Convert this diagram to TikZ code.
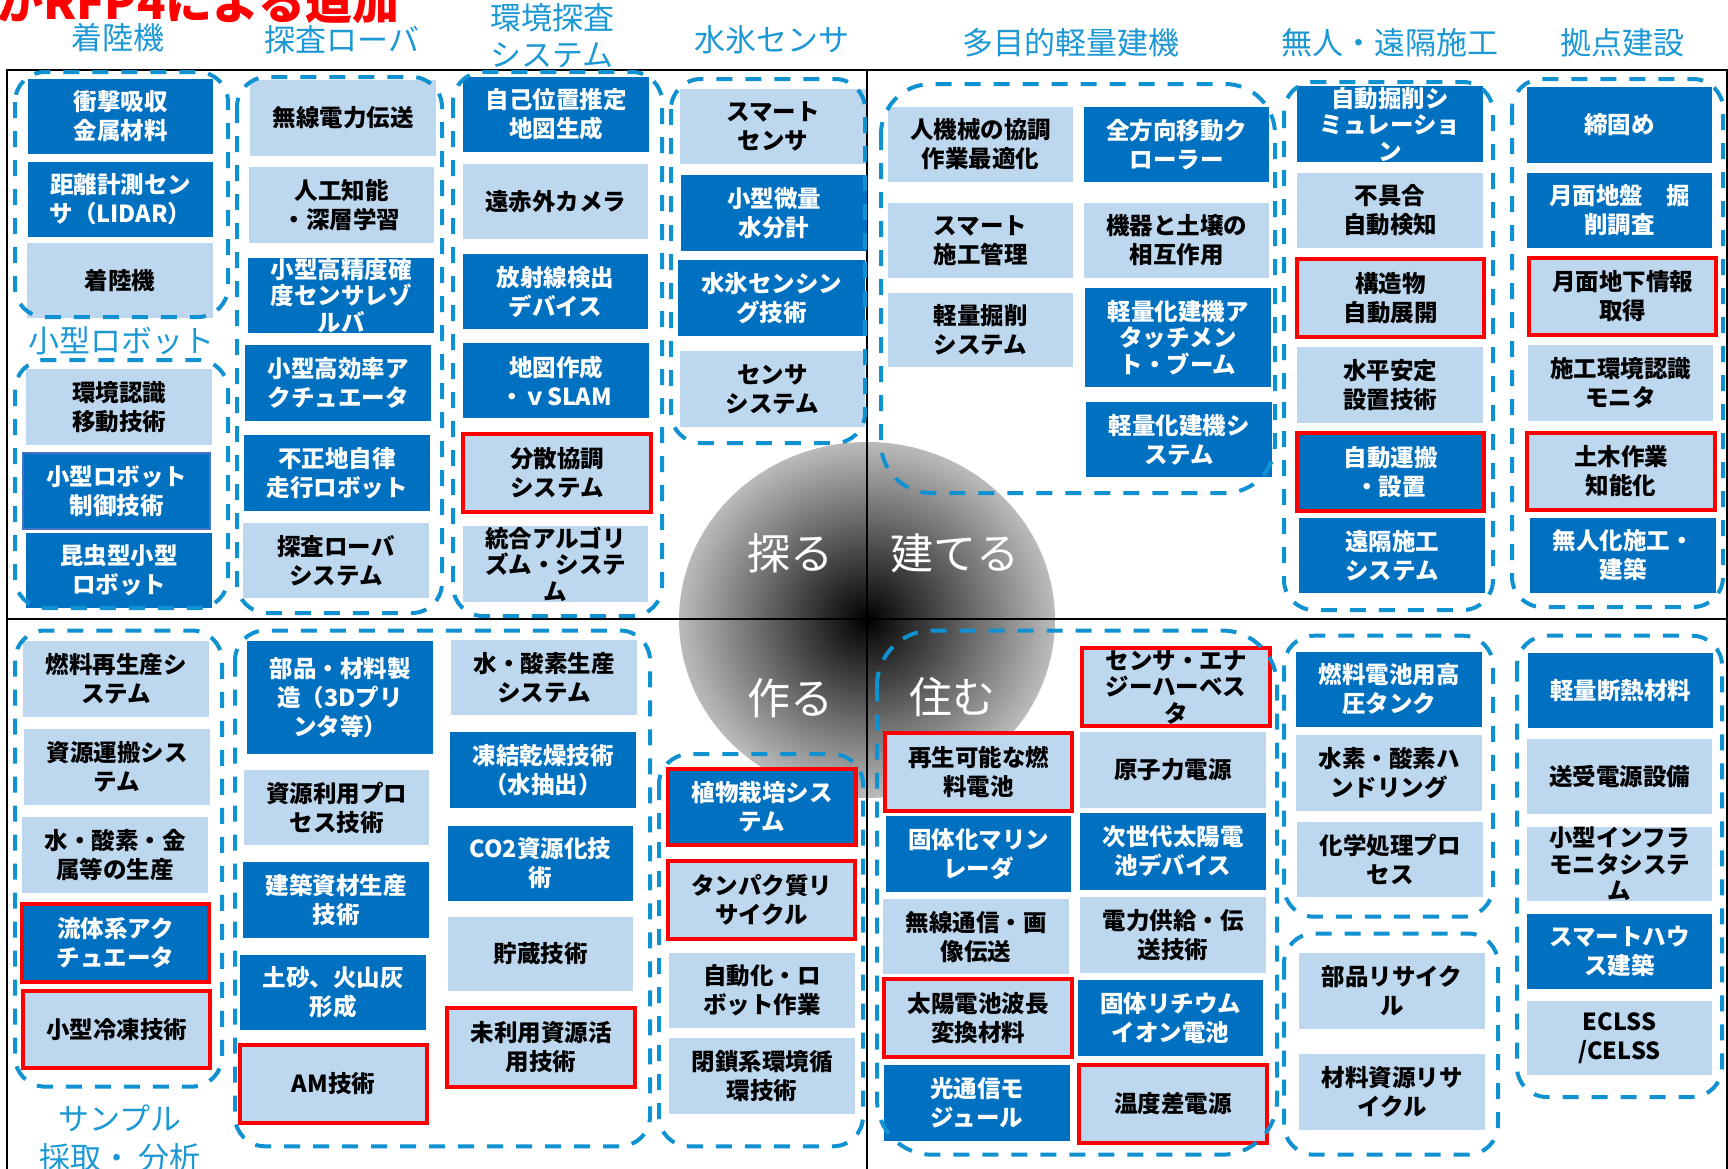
\documentclass[tikz,border=0pt]{standalone}
\usepackage{fontspec}
\setmainfont{Noto Sans CJK JP}
\definecolor{dkblue}{RGB}{0,112,192}
\definecolor{ltblue}{RGB}{189,215,238}
\definecolor{catblue}{RGB}{28,152,212}
\definecolor{grpblue}{RGB}{16,146,210}
\definecolor{thinedge}{RGB}{68,114,196}
\newcommand\mybox[7]{\node[#2, minimum width={(#5-#3)*1pt}, minimum height={(#6-#4)*1pt}] (#1) at ({(#3+#5)/2},{(#4+#6)/2}) {#7};}
\tikzset{
  boxbase/.style={rectangle, inner sep=0pt, outer sep=0pt, align=center, font=\bfseries\fontsize{23.5}{29}\selectfont},
  darkbox/.style={boxbase, fill=dkblue, text=white},
  lightbox/.style={boxbase, fill=ltblue, text=black},
  redbox/.style={draw=red, line width=4pt},
  threeline/.style={font=\bfseries\fontsize{23.5}{26.5}\selectfont},
  grp/.style={draw=grpblue, line width=4pt, dash pattern=on 16pt off 13pt},
  catlabel/.style={text=catblue, align=center, inner sep=0pt, font=\fontsize{31}{37}\selectfont},
  verb/.style={text=white, inner sep=0pt, font=\fontsize{43}{48}\selectfont},
}
\begin{document}
\begin{tikzpicture}[x=1pt,y=-1pt]
\useasboundingbox (0,0) rectangle (1728,1168);
\clip (0,0) rectangle (1728,1168);
\fill[white] (0,0) rectangle (1728,1168);

% central ball: concentric ellipses, black centre to light grey rim
\foreach \i in {0,...,89}{
  \pgfmathsetmacro\f{1-\i/90}
  \pgfmathsetmacro\pc{100-73*\f}
  \fill[black!\pc] (867,620) ellipse [x radius={188*\f*1pt}, y radius={178*\f*1pt}];
}

% frame
\draw[line width=1.5pt] (7,1175) -- (7,70) -- (1727,70) -- (1727,1175);
\draw[line width=2.5pt] (7,619) -- (1727,619);
\draw[line width=2pt] (867,70) -- (867,1175);

% title
\node[anchor=base west, inner sep=0pt, text=red, font=\bfseries\fontsize{47}{50}\selectfont] (title) at (-4,19) {かRFP4による追加};

% category labels
\node[catlabel] (L1) at (118,38) {着陸機};
\node[catlabel] (L2) at (342,40) {探査ローバ};
\node[catlabel] (L3) at (552,36) {環境探査\\システム};
\node[catlabel] (L4) at (772,40) {水氷センサ};
\node[catlabel] (L5) at (1071,43) {多目的軽量建機};
\node[catlabel] (L6) at (1390,43) {無人・遠隔施工};
\node[catlabel] (L7) at (1622,43) {拠点建設};
\node[catlabel] (L8) at (121,341) {小型ロボット};
\node[catlabel, font=\fontsize{31}{39}\selectfont] (L9) at (120,1138.5) {サンプル\\採取・ 分析};

% ---- top-left quadrant
\mybox{a1}{darkbox}{28}{79}{213}{154}{衝撃吸収\\金属材料}
\mybox{a2}{darkbox}{28}{162}{213}{237}{距離計測セン\\サ（LIDAR）}
\mybox{a3}{lightbox}{27}{243}{213}{318}{着陸機}

\mybox{b1}{lightbox}{26}{369}{212}{445}{環境認識\\移動技術}
\mybox{b2}{darkbox,draw=thinedge,line width=1.5pt}{23}{453}{210}{529}{小型ロボット\\制御技術}
\mybox{b3}{darkbox}{26}{533}{212}{608}{昆虫型小型\\ロボット}

\mybox{c1}{lightbox}{250}{80}{436}{156}{無線電力伝送}
\mybox{c2}{lightbox}{249}{167}{434}{243}{人工知能\\・深層学習}
\mybox{c3}{darkbox,threeline}{248}{258}{434}{333}{小型高精度確\\度センサレゾ\\ルバ}
\mybox{c4}{darkbox}{245}{345}{431}{421}{小型高効率ア\\クチュエータ}
\mybox{c5}{darkbox}{244}{435}{430}{511}{不正地自律\\走行ロボット}
\mybox{c6}{lightbox}{243}{523}{429}{598}{探査ローバ\\システム}

\mybox{d1}{darkbox}{463}{77}{649}{152}{自己位置推定\\地図生成}
\mybox{d2}{lightbox}{463}{164}{648}{239}{遠赤外カメラ}
\mybox{d3}{darkbox}{463}{254}{648}{329}{放射線検出\\デバイス}
\mybox{d4}{darkbox}{463}{343}{649}{418}{地図作成\\・ｖSLAM}
\mybox{d5}{lightbox,redbox}{463}{434}{651}{512}{分散協調\\システム}
\mybox{d6}{lightbox,threeline}{463}{526}{648}{602}{統合アルゴリ\\ズム・システ\\ム}

\mybox{e1}{lightbox}{680}{89}{866}{164}{スマート\\センサ}
\mybox{e2}{darkbox}{681}{175}{867}{251}{小型微量\\水分計}
\mybox{e3}{darkbox}{678}{260}{865}{336}{水氷センシン\\グ技術}
\mybox{e4}{lightbox}{680}{351}{865}{427}{センサ\\システム}

% ---- top-right quadrant
\mybox{f1}{lightbox}{888}{107}{1073}{182}{人機械の協調\\作業最適化}
\mybox{f2}{darkbox}{1084}{107}{1269}{182}{全方向移動ク\\ローラー}
\mybox{f3}{lightbox}{888}{203}{1073}{278}{スマート\\施工管理}
\mybox{f4}{lightbox}{1084}{203}{1269}{278}{機器と土壌の\\相互作用}
\mybox{f5}{lightbox}{888}{293}{1073}{367}{軽量掘削\\システム}
\mybox{f6}{darkbox,threeline}{1085}{288}{1271}{387}{軽量化建機ア\\タッチメン\\ト・ブーム}
\mybox{f7}{darkbox}{1086}{402}{1272}{477}{軽量化建機シ\\ステム}

\mybox{h1}{darkbox,threeline}{1297}{86}{1483}{162}{自動掘削シ\\ミュレーショ\\ン}
\mybox{h2}{lightbox}{1297}{173}{1483}{248}{不具合\\自動検知}
\mybox{h3}{lightbox,redbox}{1297}{259}{1484}{337}{構造物\\自動展開}
\mybox{h4}{lightbox}{1297}{347}{1483}{423}{水平安定\\設置技術}
\mybox{h5}{darkbox,redbox}{1297}{433}{1484}{511}{自動運搬\\・設置}
\mybox{h6}{darkbox}{1299}{518}{1485}{593}{遠隔施工\\システム}

\mybox{i1}{darkbox}{1527}{87}{1712}{163}{締固め}
\mybox{i2}{darkbox}{1527}{173}{1712}{248}{月面地盤　掘\\削調査}
\mybox{i3}{lightbox,redbox}{1529}{258}{1716}{335}{月面地下情報\\取得}
\mybox{i4}{lightbox}{1528}{345}{1713}{421}{施工環境認識\\モニタ}
\mybox{i5}{lightbox,redbox}{1527}{433}{1715}{510}{土木作業\\知能化}
\mybox{i6}{darkbox}{1530}{518}{1716}{593}{無人化施工・\\建築}

% ---- bottom-left quadrant
\mybox{j1}{lightbox}{23}{641}{209}{716.5}{燃料再生産シ\\ステム}
\mybox{j2}{lightbox}{24}{729}{210}{804.5}{資源運搬シス\\テム}
\mybox{j3}{lightbox}{22}{817}{208}{892.6}{水・酸素・金\\属等の生産}
\mybox{j4}{darkbox,redbox}{22}{904}{209}{981.7}{流体系アク\\チュエータ}
\mybox{j5}{lightbox,redbox}{23}{991}{210}{1067.7}{小型冷凍技術}

\mybox{k1}{darkbox}{247}{641}{433}{754.2}{部品・材料製\\造（3Dプリ\\ンタ等）}
\mybox{k2}{lightbox}{244}{770}{429}{845.4}{資源利用プロ\\セス技術}
\mybox{k3}{darkbox}{243}{862.2}{429}{937.7}{建築資材生産\\技術}
\mybox{k4}{darkbox}{240}{954.5}{426}{1030}{土砂、火山灰\\形成}
\mybox{k5}{lightbox,redbox}{240}{1044.6}{427}{1123.3}{AM技術}
\mybox{l1}{lightbox}{451}{640}{637}{715.4}{水・酸素生産\\システム}
\mybox{l2}{darkbox}{450}{732.2}{636}{807.7}{凍結乾燥技術\\（水抽出）}
\mybox{l3}{darkbox}{448}{825.5}{633}{901}{CO2資源化技\\術}
\mybox{l4}{lightbox}{448}{916.7}{633}{991.2}{貯蔵技術}
\mybox{l5}{lightbox,redbox}{447}{1008}{635}{1086.6}{未利用資源活\\用技術}

\mybox{m1}{darkbox,redbox}{668}{768.9}{856}{845.4}{植物栽培シス\\テム}
\mybox{m2}{lightbox,redbox}{668}{861.1}{855}{938.7}{タンパク質リ\\サイクル}
\mybox{m3}{lightbox}{669}{953.4}{855}{1027.8}{自動化・ロ\\ボット作業}
\mybox{m4}{lightbox}{669}{1038.3}{855}{1113.8}{閉鎖系環境循\\環技術}

% ---- bottom-right quadrant
\mybox{n1}{lightbox,redbox}{885}{733.2}{1072}{810.8}{再生可能な燃\\料電池}
\mybox{n2}{darkbox}{886}{816.1}{1071}{891.6}{固体化マリン\\レーダ}
\mybox{n3}{lightbox}{883}{898.9}{1069}{974.4}{無線通信・画\\像伝送}
\mybox{n4}{lightbox,redbox}{884}{978.6}{1072}{1057.2}{太陽電池波長\\変換材料}
\mybox{n5}{darkbox}{884}{1064.5}{1070}{1141.1}{光通信モ\\ジュール}
\mybox{o1}{lightbox,redbox,threeline}{1082}{648.3}{1270}{725.9}{センサ・エナ\\ジーハーベス\\タ}
\mybox{o2}{lightbox}{1080}{732.2}{1266}{807.7}{原子力電源}
\mybox{o3}{darkbox}{1080}{812.9}{1266}{889.5}{次世代太陽電\\池デバイス}
\mybox{o4}{lightbox}{1080}{896.8}{1266}{973.3}{電力供給・伝\\送技術}
\mybox{o5}{darkbox}{1078}{979.6}{1263}{1056.2}{固体リチウム\\イオン電池}
\mybox{o6}{lightbox,redbox}{1079}{1064.5}{1267}{1143.2}{温度差電源}

\mybox{p1}{darkbox}{1296}{651.5}{1482}{726.9}{燃料電池用高\\圧タンク}
\mybox{p2}{lightbox}{1296}{735.3}{1482}{810.8}{水素・酸素ハ\\ンドリング}
\mybox{p3}{lightbox}{1297}{822.4}{1483}{896.8}{化学処理プロ\\セス}
\mybox{q1}{lightbox}{1299}{953.4}{1485}{1028.9}{部品リサイク\\ル}
\mybox{q2}{lightbox}{1299}{1054}{1485}{1129.5}{材料資源リサ\\イクル}
\mybox{r1}{darkbox}{1528}{652.5}{1713}{728}{軽量断熱材料}
\mybox{r2}{lightbox}{1527}{738.5}{1712}{814}{送受電源設備}
\mybox{r3}{lightbox,threeline}{1527}{826.5}{1712}{901}{小型インフラ\\モニタシステ\\ム}
\mybox{r4}{darkbox}{1527}{913.6}{1712}{989}{スマートハウ\\ス建築}
\mybox{r5}{lightbox}{1527}{1000.6}{1712}{1075}{ECLSS\\/CELSS}

% ---- dashed groups
\draw[grp, rounded corners=30pt] (15,72) rectangle (228,317);
\draw[grp, rounded corners=30pt] (15,360) rectangle (228,608);
\draw[grp, rounded corners=30pt] (237,77) rectangle (442,613);
\draw[grp, rounded corners=30pt] (453,72) rectangle (662,616);
\draw[grp, rounded corners=30pt] (671,79) rectangle (865,443);
\draw[grp, rounded corners=50pt] (881,84) rectangle (1275,493);
\draw[grp, rounded corners=30pt] (1284,82) rectangle (1493,610);
\draw[grp, rounded corners=30pt] (1512,79) rectangle (1723,607);
\draw[grp, rounded corners=30pt] (15,630.5) rectangle (222,1086.6);
\draw[grp, rounded corners=30pt] (235,630.5) rectangle (650,1146.3);
\draw[grp, rounded corners=30pt] (659,754.2) rectangle (863,1146.3);
\draw[grp, rounded corners=55pt] (877,630.5) rectangle (1277,1154.7);
\draw[grp, rounded corners=30pt] (1284,635.7) rectangle (1493,916.7);
\draw[grp, rounded corners=30pt] (1284,933.5) rectangle (1498,1154.7);
\draw[grp, rounded corners=30pt] (1517,635.7) rectangle (1722,1097);

% ---- verbs on the ball
\node[verb] (V1) at (790,553) {探る};
\node[verb] (V2) at (955,553) {建てる};
\node[verb] (V3) at (790,698) {作る};
\node[verb] (V4) at (952,697) {住む};
\end{tikzpicture}
\end{document}
